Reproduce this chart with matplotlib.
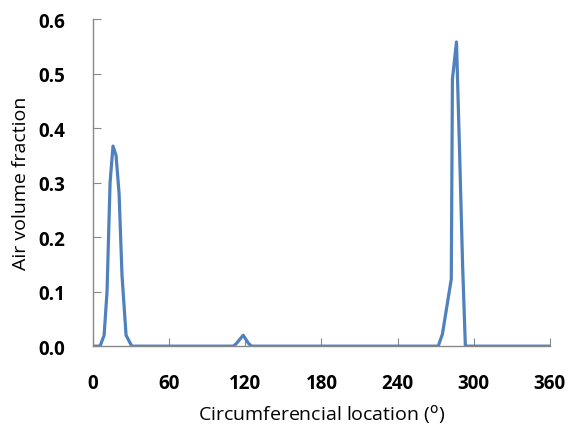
import matplotlib
matplotlib.use('Agg')
import matplotlib.pyplot as plt

# circumferential location (deg) and air volume fraction
location = [0, 5.5, 8.7, 11.0, 13.4, 15.7, 18.1, 20.5, 22.8, 26.0, 30.5,
            110.5, 113.0, 118.3, 122.5, 125.0,
            272.0, 275.3, 282.3, 283.2, 286.4, 288.8, 291.2, 293.4, 360]
air_fraction = [0, 0, 0.02, 0.10, 0.30, 0.367, 0.35, 0.28, 0.13, 0.02, 0,
                0, 0.005, 0.02, 0.005, 0,
                0, 0.022, 0.123, 0.49, 0.558, 0.36, 0.15, 0, 0]

x_ticks = [0, 60, 120, 180, 240, 300, 360]
y_ticks = [0.0, 0.1, 0.2, 0.3, 0.4, 0.5, 0.6]

plt.rcParams['font.family'] = ['Open Sans', 'DejaVu Sans']

fig = plt.figure(figsize=(5.71, 4.27), dpi=100)
ax = fig.add_axes([0.163, 0.187, 0.8, 0.766])

ax.plot(location, air_fraction, color='#4F81BD', linewidth=2.3, solid_joinstyle='round')

ax.set_xlim(0, 360)
ax.set_ylim(0, 0.6)
ax.set_xticks(x_ticks)
ax.set_yticks(y_ticks)
ax.set_yticklabels([f"{v:.1f}" for v in y_ticks])

for s in ['top', 'right']:
    ax.spines[s].set_visible(False)
for s in ['left', 'bottom']:
    ax.spines[s].set_color('#888888')
    ax.spines[s].set_linewidth(1.0)

ax.tick_params(direction='in', length=6, color='#888888', labelsize=13.5)
ax.tick_params(axis='y', pad=20)
ax.tick_params(axis='x', pad=19)
for lbl in ax.get_xticklabels() + ax.get_yticklabels():
    lbl.set_fontweight('bold')

ax.set_xlabel('Circumferencial location ($^{\\mathrm{o}}$)', fontsize=14, labelpad=7)
ax.set_ylabel('Air volume fraction', fontsize=14, labelpad=6)

fig.savefig('out.png', dpi=100)
